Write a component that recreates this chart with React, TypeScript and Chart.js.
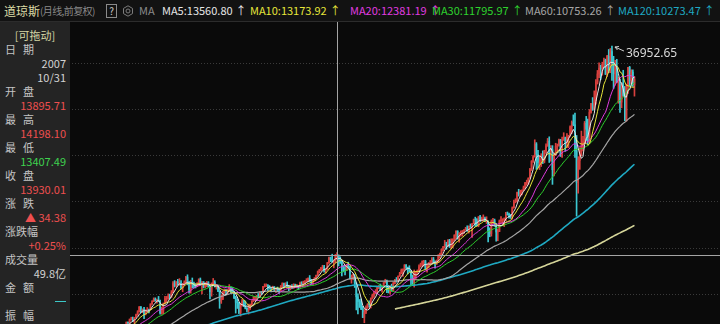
import React, { useEffect, useRef } from 'react';
import { Chart, registerables } from 'chart.js';

Chart.register(...registerables);

// ---------------- DATA (Dow Jones monthly, 1990-01 .. 2023-03) ----------------
const START_YEAR = 1990;

const closes1990s = [
  2591, 2627, 2707, 2657, 2877, 2881, 2905, 2614, 2453, 2442, 2560, 2634,
  2736, 2882, 2914, 2888, 3028, 2907, 3025, 3044, 3017, 3069, 2895, 3169,
  3224, 3268, 3236, 3359, 3397, 3319, 3394, 3257, 3272, 3226, 3305, 3301,
  3310, 3371, 3435, 3428, 3527, 3516, 3540, 3651, 3555, 3681, 3684, 3754,
  3978, 3832, 3636, 3682, 3758, 3625, 3765, 3913, 3843, 3908, 3739, 3834,
  3844, 4011, 4158, 4321, 4465, 4556, 4709, 4647, 4789, 4756, 5075, 5117,
  5395, 5486, 5588, 5569, 5643, 5655, 5529, 5616, 5882, 6029, 6522, 6448,
  6813, 6878, 6584, 7009, 7331, 7673, 8223, 7622, 7945, 7442, 7823, 7908,
  7907, 8546, 8800, 9063, 8900, 8952, 8883, 7539, 7843, 8592, 9117, 9181,
  9359, 9307, 9786, 10789, 10560, 10971, 10655, 10829, 10337, 10729, 10878, 11497,
];
const closes2000s = [
  10941, 10128, 10922, 10734, 10522, 10448, 10522, 11215, 10651, 10971, 10415, 10788,
  10887, 10495, 9879, 10735, 10912, 10502, 10523, 9950, 8848, 9075, 9852, 10022,
  9920, 10106, 10404, 9946, 9925, 9243, 8737, 8664, 7592, 8397, 8896, 8342,
  8054, 7891, 7992, 8480, 8850, 8985, 9234, 9416, 9275, 9801, 9782, 10454,
  10488, 10584, 10358, 10226, 10188, 10435, 10140, 10174, 10080, 10027, 10428, 10783,
  10490, 10766, 10504, 10193, 10467, 10275, 10641, 10482, 10569, 10440, 10806, 10718,
  10865, 10993, 11109, 11367, 11168, 11150, 11186, 11381, 11679, 12081, 12221, 12463,
  12622, 12269, 12354, 13063, 13628, 13409, 13212, 13358, 13895.71, 13930.01, 13372, 13265,
  12650, 12266, 12263, 12820, 12638, 11350, 11378, 11544, 10851, 9325, 8829, 8776,
  8001, 7063, 7609, 8168, 8500, 8447, 9172, 9496, 9712, 9713, 10345, 10428,
];
const closes2010s = [
  10067, 10325, 10857, 11009, 10137, 9774, 10466, 10015, 10788, 11118, 11006, 11578,
  11892, 12226, 12320, 12811, 12570, 12414, 12143, 11614, 10913, 11955, 12046, 12218,
  12633, 12952, 13212, 13214, 12393, 12880, 13009, 13091, 13437, 13096, 13026, 13104,
  13861, 14054, 14579, 14840, 15116, 14910, 15500, 14810, 15130, 15546, 16086, 16577,
  15699, 16322, 16458, 16581, 16717, 16827, 16563, 17098, 17043, 17391, 17828, 17823,
  17165, 18133, 17776, 17841, 18011, 17620, 17690, 16528, 16285, 17664, 17720, 17425,
  16466, 16517, 17685, 17774, 17787, 17930, 18432, 18401, 18308, 18142, 19124, 19763,
  19864, 20812, 20663, 20941, 21009, 21350, 21891, 21948, 22405, 23377, 24272, 24719,
  26149, 25029, 24103, 24163, 24416, 24271, 25415, 25965, 26458, 25116, 25538, 23327,
  24999, 25916, 25929, 26593, 24815, 26600, 26864, 26403, 26917, 27046, 28051, 28538,
];
const closes2020s = [
  28256, 25409, 21917, 24346, 25383, 25813, 26428, 28430, 27782, 26502, 29639, 30606,
  29983, 30932, 32982, 33875, 34529, 34503, 34935, 35361, 33844, 35820, 34484, 36338,
  35132, 33893, 34678, 32977, 32990, 30775, 32845, 31510, 28726, 32733, 34590, 33147,
  34086, 32657, 33274,
];

// candle highs / lows from 1996-01
const CANDLE_START_YEAR = 1996;
const highs1996to1999 = [
  5395, 5630, 5690, 5690, 5780, 5720, 5730, 5750, 5930, 6110, 6560, 6560,
  6890, 7080, 7100, 7050, 7420, 7800, 8250, 8260, 8000, 8180, 7900, 8150,
  7970, 8550, 8900, 9210, 9210, 9070, 9370, 8960, 8200, 8650, 9380, 9370,
  9650, 9620, 10010, 11000, 11110, 11000, 11250, 11330, 11100, 10800, 11090, 11570,
];
const lows1996to1999 = [
  5000, 5350, 5430, 5470, 5420, 5590, 5170, 5340, 5560, 5880, 6010, 6270,
  6380, 6750, 6580, 6390, 7000, 7290, 7650, 7580, 7580, 6930, 7330, 7620,
  7540, 7900, 8480, 8790, 8830, 8620, 8780, 7400, 7400, 7470, 8560, 8720,
  9050, 9120, 9260, 9770, 10400, 10450, 10600, 10600, 10200, 9880, 10570, 10830,
];
const highs2000s = [
  11750, 11040, 11150, 11400, 10940, 10780, 10880, 11310, 11400, 11000, 11000, 10900,
  11020, 11000, 10650, 10860, 11350, 11100, 10700, 10600, 9980, 9550, 9920, 10200,
  10150, 10150, 10670, 10400, 10340, 9930, 9400, 9080, 8720, 8540, 9050, 8930,
  8870, 8140, 8520, 8530, 8900, 9350, 9340, 9480, 9690, 9860, 9900, 10480,
  10750, 10750, 10680, 10570, 10310, 10500, 10450, 10250, 10400, 10240, 10580, 10870,
  10850, 10880, 10980, 10600, 10600, 10680, 10760, 10720, 10690, 10600, 10940, 10990,
  11050, 11120, 11330, 11420, 11670, 11250, 11240, 11450, 11720, 12170, 12360, 12580,
  12800, 12790, 12420, 13120, 13690, 13710, 14020, 13400, 14000, 14198.10, 13930, 13730,
  13340, 12770, 12650, 12900, 13140, 12690, 11730, 11870, 11790, 10880, 9650, 9030,
  9090, 8280, 7930, 8320, 8580, 8880, 9200, 9630, 9920, 10120, 10470, 10580,
];
const lows2000s = [
  10640, 9730, 9730, 10300, 10300, 10300, 10430, 10600, 10600, 9650, 10300, 10300,
  10430, 10400, 9100, 9390, 10550, 10400, 10170, 9880, 8060, 8600, 9000, 9700,
  9570, 9600, 10000, 9730, 9810, 9110, 7530, 8040, 7460, 7200, 8300, 8240,
  7990, 7670, 7420, 7930, 8380, 8800, 8940, 9020, 9270, 9400, 9600, 9750,
  10390, 10450, 10000, 10160, 9850, 10150, 9950, 9800, 10000, 9710, 10000, 10400,
  10360, 10460, 10400, 10000, 10100, 10220, 10250, 10400, 10300, 10150, 10400, 10700,
  10650, 10740, 10950, 11000, 11000, 10700, 10680, 11050, 11290, 11620, 11960, 12180,
  12330, 12050, 11940, 12350, 13000, 13200, 13130, 12520, 13060, 13407.49, 12720, 13000,
  11630, 12070, 11730, 12200, 12500, 11290, 10830, 11200, 10360, 7880, 7450, 8150,
  7910, 7030, 6470, 7470, 8040, 8220, 8090, 9070, 9250, 9670, 9670, 10230,
];
const highs2010s = [
  10730, 10420, 10900, 11260, 11170, 10600, 10570, 10720, 10950, 11250, 11450, 11630,
  12020, 12390, 12420, 12880, 12880, 12600, 12750, 12220, 11720, 12280, 12110, 12290,
  12840, 13040, 13290, 13340, 13340, 12900, 13110, 13330, 13650, 13660, 13290, 13390,
  13970, 14150, 14590, 14890, 15540, 15340, 15640, 15660, 15710, 15720, 16170, 16590,
  16590, 16400, 16590, 16630, 16740, 16980, 17150, 17150, 17350, 17400, 17890, 18100,
  17950, 18160, 18290, 18110, 18350, 18100, 18140, 17660, 16930, 17800, 17980, 17890,
  17410, 16800, 17790, 18170, 17930, 18020, 18620, 18670, 18540, 18400, 19230, 19990,
  20130, 20850, 21170, 21070, 21110, 21530, 21930, 22180, 22420, 23490, 24330, 24880,
  26620, 26310, 25450, 24860, 25090, 25400, 25470, 26170, 26770, 26950, 25980, 25980,
  25190, 26240, 26160, 26700, 26670, 26910, 27400, 26920, 27310, 27120, 28170, 28700,
];
const lows2010s = [
  10030, 9840, 10300, 10850, 9770, 9750, 9610, 9930, 9990, 10750, 10930, 10990,
  11590, 11850, 11560, 12220, 12330, 11860, 12080, 10600, 10600, 10400, 11230, 11770,
  12150, 12600, 12710, 12710, 12350, 12040, 12490, 12880, 13000, 12960, 12470, 12880,
  13100, 13580, 13940, 14400, 14690, 14550, 14860, 14760, 14640, 14720, 15470, 15700,
  15690, 15340, 16000, 16020, 16300, 16680, 16560, 16330, 16950, 15860, 17400, 17070,
  17140, 17040, 17580, 17660, 17700, 17600, 17400, 15370, 15940, 16010, 17380, 17140,
  15450, 15500, 16500, 17480, 17330, 17060, 17710, 18320, 18000, 17960, 17890, 19100,
  19680, 19830, 20410, 20380, 20550, 20990, 21200, 21600, 21710, 22410, 23240, 24140,
  24740, 23360, 23510, 23340, 23680, 24000, 24080, 25120, 25900, 24120, 24270, 21710,
  22640, 24880, 25210, 25990, 24800, 24680, 26560, 25340, 25740, 25740, 27040, 27320,
];
const highs2020s = [
  29370, 29570, 27100, 24760, 25760, 27580, 27000, 28640, 29200, 28900, 29960, 30640,
  31270, 32010, 33260, 34260, 35090, 34850, 35170, 35630, 35510, 35930, 36570, 36680,
  36952.65, 35820, 35370, 35490, 33520, 33270, 32910, 34280, 32500, 32750, 34590, 34710,
  34340, 34330, 33570,
];
const lows2020s = [
  28170, 24680, 18213, 20740, 23360, 24840, 25390, 26310, 26540, 26140, 26280, 29550,
  29860, 29960, 30550, 32760, 33470, 33270, 33740, 34650, 33810, 33610, 34020, 34010,
  33150, 32270, 32630, 32910, 30640, 29650, 30140, 31400, 28715, 28660, 31730, 32570,
  32810, 32500, 31430,
];

// moving-average periods shown
const maPeriods = [5, 10, 20, 30, 60, 120, 250];
const maColors = ['#e6e6e6', '#e6e63a', '#e03ce0', '#2ed22e', '#a6a6a6', '#1fa9c2', '#d6d69a'];
const maWidths = [1, 1, 1, 1, 1.2, 1.6, 1.6];

// header legend values (at crosshair month)
const legendNames = ['MA5', 'MA10', 'MA20', 'MA30', 'MA60', 'MA120'];
const legendValues = ['13560.80', '13173.92', '12381.19', '11795.97', '10753.26', '10273.47'];
const legendX = [162, 250, 350, 432, 525, 618];

// crosshair month and info panel
const crossYear = 2007;
const crossMonth = 10;
const infoDate: [string, string, string] = ['日期', '2007', '10/31'];
const panelItems: { label: string; value: string; color: string }[] = [
  { label: '开盘', value: '13895.71', color: '#ee4f4f' },
  { label: '最高', value: '14198.10', color: '#ee4f4f' },
  { label: '最低', value: '13407.49', color: '#3fd24f' },
  { label: '收盘', value: '13930.01', color: '#ee4f4f' },
  { label: '涨跌', value: '▲ 34.38', color: '#ee4f4f' },
  { label: '涨跌幅', value: '+0.25%', color: '#ee4f4f' },
  { label: '成交量', value: '49.8亿', color: '#d2d2d2' },
  { label: '金额', value: '—', color: '#3cc8c8' },
];

// horizontal dotted grid values
const gridValues = [35080, 29990, 24910, 19830, 14750, 9670];

// visible window
const xMin = 3.4;
const xMax = 451.2;
const yMin = 6330;
const yMax = 42020;

// ---------------- derived ----------------
const closes = [...closes1990s, ...closes2000s, ...closes2010s, ...closes2020s];
const highs = [...highs1996to1999, ...highs2000s, ...highs2010s, ...highs2020s];
const lows = [...lows1996to1999, ...lows2000s, ...lows2010s, ...lows2020s];
const candleStart = (CANDLE_START_YEAR - START_YEAR) * 12;
const crossIndex = (crossYear - START_YEAR) * 12 + crossMonth - 1;

const UP = '#d8403e';
const DOWN = '#3cc8d2';

function movingAverage(n: number) {
  const out: { x: number; y: number }[] = [];
  let sum = 0;
  for (let i = 0; i < closes.length; i++) {
    sum += closes[i];
    if (i >= n) sum -= closes[i - n];
    if (i >= n - 1) out.push({ x: i, y: sum / n });
  }
  return out;
}

const overlayPlugin = {
  id: 'overlay',
  beforeDatasetsDraw(chart: any) {
    const { ctx, scales, width } = chart;
    ctx.save();
    ctx.strokeStyle = '#3a3a3a';
    ctx.lineWidth = 1;
    ctx.setLineDash([1, 2]);
    gridValues.forEach((v) => {
      const py = Math.round(scales.y.getPixelForValue(v)) + 0.5;
      ctx.beginPath();
      ctx.moveTo(0, py);
      ctx.lineTo(width, py);
      ctx.stroke();
    });
    ctx.restore();
  },
  afterDatasetsDraw(chart: any) {
    const { ctx, scales, width, height } = chart;
    const x = scales.x;
    const y = scales.y;
    ctx.save();
    // crosshair
    const cx = Math.round(x.getPixelForValue(crossIndex)) + 0.5;
    const cy = Math.round(y.getPixelForValue(closes[crossIndex])) + 0.5;
    ctx.strokeStyle = '#a4a4a4';
    ctx.lineWidth = 1;
    ctx.beginPath();
    ctx.moveTo(cx, 21);
    ctx.lineTo(cx, height);
    ctx.moveTo(0, cy);
    ctx.lineTo(width, cy);
    ctx.stroke();

    // peak annotation
    let k = 0;
    highs.forEach((h, j) => { if (h > highs[k]) k = j; });
    const px = x.getPixelForValue(candleStart + k);
    const py = y.getPixelForValue(highs[k]);
    const tipX = px + 3, tipY = py + 1;
    const tailX = px + 12, tailY = py + 5;
    ctx.strokeStyle = '#d0d0d0';
    ctx.beginPath();
    ctx.moveTo(tailX, tailY);
    ctx.lineTo(tipX, tipY);
    ctx.moveTo(tipX, tipY);
    ctx.lineTo(tipX + 4, tipY - 0.5);
    ctx.moveTo(tipX, tipY);
    ctx.lineTo(tipX + 2.5, tipY + 3);
    ctx.stroke();
    ctx.fillStyle = '#d8d8d8';
    ctx.font = '12px "Noto Sans", "DejaVu Sans", sans-serif';
    ctx.textBaseline = 'middle';
    ctx.fillText(highs[k].toFixed(2), px + 14, py + 8);
    ctx.restore();
  },
};

export default function App() {
  const canvasRef = useRef<HTMLCanvasElement | null>(null);

  useEffect(() => {
    document.body.style.margin = '0';
    const canvas = canvasRef.current;
    if (!canvas) return;

    const wick = highs.map((h, k) => ({ x: candleStart + k, y: [lows[k], h] }));
    const body = highs.map((_, k) => {
      const i = candleStart + k;
      return { x: i, y: [closes[i - 1], closes[i]] };
    });
    const candleColors = highs.map((_, k) => {
      const i = candleStart + k;
      return closes[i] >= closes[i - 1] ? UP : DOWN;
    });

    const maSets = maPeriods.map((n, j) => ({
      type: 'line' as const,
      label: 'MA' + n,
      data: movingAverage(n),
      borderColor: maColors[j],
      borderWidth: maWidths[j],
      pointRadius: 0,
      tension: 0,
      fill: false,
      order: j + 1,
    }));

    const chart = new Chart(canvas, {
      type: 'line',
      data: {
        datasets: [
          ...maSets,
          {
            type: 'bar' as const,
            label: 'wick',
            data: wick as any,
            backgroundColor: candleColors,
            barThickness: 1,
            grouped: false,
            order: 20,
          } as any,
          {
            type: 'bar' as const,
            label: 'body',
            data: body as any,
            backgroundColor: candleColors,
            barThickness: 1,
            grouped: false,
            order: 19,
          } as any,
        ],
      },
      options: {
        responsive: false,
        maintainAspectRatio: false,
        animation: false,
        events: [],
        layout: { padding: 0 },
        plugins: { legend: { display: false }, tooltip: { enabled: false } },
        scales: {
          x: { type: 'linear', display: false, min: xMin, max: xMax, offset: false },
          y: { type: 'linear', display: false, min: yMin, max: yMax },
        },
      },
      plugins: [overlayPlugin],
    });
    return () => chart.destroy();
  }, []);

  const font = '"Noto Sans CJK SC", "Noto Sans", sans-serif';
  const labelColor = '#c4c4c4';
  const rowY = (i: number) => 49 + 14 * i;

  const spaced = (s: string) => (s.length === 2 ? { letterSpacing: '7px' } : {});

  const panelEls: any[] = [];
  panelEls.push(
    <div key="drag" style={{ position: 'absolute', left: 0, width: 70, top: 35 - 8, height: 16, lineHeight: '16px', textAlign: 'center', color: '#d6d6a4', fontSize: 11 }}>[可拖动]</div>
  );
  panelEls.push(
    <div key="dl" style={{ position: 'absolute', left: 5, top: rowY(0) - 8, height: 16, lineHeight: '16px', color: labelColor, fontSize: 11, ...spaced(infoDate[0]) }}>{infoDate[0]}</div>
  );
  panelEls.push(
    <div key="d1" style={{ position: 'absolute', right: 4, top: rowY(1) - 8, height: 16, lineHeight: '16px', color: '#d2d2d2', fontSize: 11 }}>{infoDate[1]}</div>
  );
  panelEls.push(
    <div key="d2" style={{ position: 'absolute', right: 4, top: rowY(2) - 8, height: 16, lineHeight: '16px', color: '#d2d2d2', fontSize: 11 }}>{infoDate[2]}</div>
  );
  panelItems.forEach((it, j) => {
    const r = 3 + j * 2;
    panelEls.push(
      <div key={'l' + j} style={{ position: 'absolute', left: 5, top: rowY(r) - 8, height: 16, lineHeight: '16px', color: labelColor, fontSize: 11, whiteSpace: 'nowrap', ...spaced(it.label) }}>{it.label}</div>
    );
    if (it.value === '—') {
      panelEls.push(
        <div key={'v' + j} style={{ position: 'absolute', right: 4, width: 11, top: rowY(r + 1), height: 1, background: it.color }} />
      );
    } else {
      panelEls.push(
        <div key={'v' + j} style={{ position: 'absolute', right: 4, top: rowY(r + 1) - 8, height: 16, lineHeight: '16px', color: it.color, fontSize: 11, whiteSpace: 'nowrap' }}>{it.value}</div>
      );
    }
  });
  panelEls.push(
    <div key="zf" style={{ position: 'absolute', left: 5, top: rowY(19) - 8, height: 16, lineHeight: '16px', color: labelColor, fontSize: 11, ...spaced('振幅') }}>振幅</div>
  );

  return (
    <div style={{ position: 'fixed', left: 0, top: 0, width: 720, height: 324, background: '#0a0a0a', overflow: 'hidden', fontFamily: font }}>
      <canvas ref={canvasRef} width={720} height={324} style={{ position: 'absolute', left: 0, top: 0, width: 720, height: 324 }} />
      {/* header */}
      <div style={{ position: 'absolute', left: 0, top: 0, width: 720, height: 21, background: '#121212', borderBottom: '1px solid #2c2c2c', fontSize: 11, lineHeight: '21px', whiteSpace: 'nowrap' }}>
        <span style={{ position: 'absolute', left: 4, color: '#dcdca6', fontSize: 12 }}>道琼斯</span>
        <span style={{ position: 'absolute', left: 40, color: '#8a8a8a', fontSize: 10, letterSpacing: '-0.6px' }}>(月线,前复权)</span>
        <span style={{ position: 'absolute', left: 106, top: 4, width: 9, height: 12, border: '1px solid #8a8a8a', color: '#cfcfcf', fontSize: 10, lineHeight: '12px', textAlign: 'center' }}>?</span>
        <svg width="12" height="12" viewBox="0 0 12 12" style={{ position: 'absolute', left: 122, top: 5 }}>
          <polygon points="6,0.8 10.5,3.4 10.5,8.6 6,11.2 1.5,8.6 1.5,3.4" fill="none" stroke="#7c7c7c" strokeWidth="1" />
          <circle cx="6" cy="6" r="2" fill="none" stroke="#7c7c7c" strokeWidth="1" />
        </svg>
        <span style={{ position: 'absolute', left: 139, color: '#8a8a8a' }}>MA</span>
        {legendNames.map((n, j) => (
          <span key={n} style={{ position: 'absolute', left: legendX[j], color: maColors[j] }}>
            {n}:{legendValues[j]}<span style={{ marginLeft: 3 }}>↑</span>
          </span>
        ))}
      </div>
      {/* floating info panel */}
      <div style={{ position: 'absolute', left: 0, top: 22, width: 70, height: 302, background: '#242424' }}>
        <div style={{ position: 'absolute', left: 0, top: -22, width: 70, height: 324 }}>{panelEls}</div>
      </div>
    </div>
  );
}
